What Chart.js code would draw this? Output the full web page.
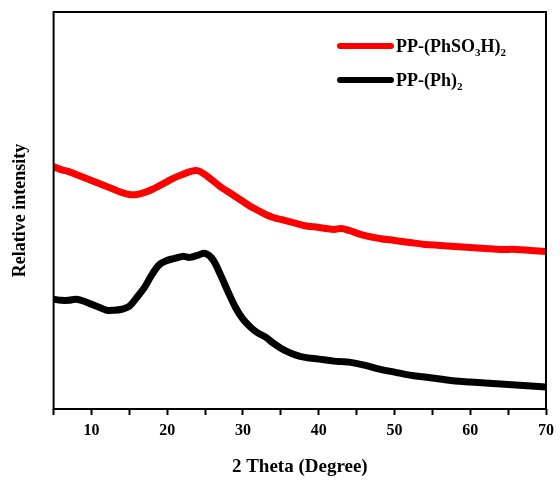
<!DOCTYPE html>
<html>
<head>
<meta charset="utf-8">
<script src="https://cdn.jsdelivr.net/npm/chart.js@4.4.0/dist/chart.umd.min.js"></script>
<style>
  html, body { margin: 0; padding: 0; background: #fff; }
  #wrap { width: 560px; height: 481px; }
</style>
</head>
<body>
<div id="wrap"><canvas id="xrd"></canvas></div>
<script>
// 2 theta positions (degree)
const twoTheta = [5, 6, 7, 8, 9, 10, 11, 12, 13, 14, 15, 16, 17, 18, 19, 20, 21, 22, 23, 24, 25,
  26, 27, 28, 29, 30, 31, 32, 33, 34, 35, 36, 37, 38, 40, 42, 43, 44, 46, 48, 50, 52, 54, 56, 58,
  60, 62, 64, 66, 68, 70];

// relative intensity (arbitrary units)
const sulfonated = [243, 240, 238, 235, 232, 229, 226, 223, 220, 217, 215, 215, 217, 220, 224, 228,
  232, 235, 238, 239, 235, 229, 223, 218, 213, 208, 203, 199, 195, 192, 190, 188, 186, 184, 182, 180,
  181, 179, 174, 171, 169, 167, 165, 164, 163, 162, 161, 160, 160, 159, 158];
const phenyl = [110, 109, 109, 110, 108, 105, 102, 99, 99, 100, 103, 112, 122, 135, 145, 149, 151,
  153, 152, 154, 156, 150, 135, 118, 102, 90, 82, 76, 72, 66, 61, 57, 54, 52, 50, 48, 47.5, 47, 44,
  40, 37, 34, 32, 30, 28, 27, 26, 25, 24, 23, 22];

const seriesNames = ['PP-(PhSO3H)2', 'PP-(Ph)2'];
const xTickLabels = [10, 20, 30, 40, 50, 60, 70];

const serif = '"Liberation Serif", "Times New Roman", serif';

// frame round the plot area
const framePlugin = {
  id: 'frame',
  afterDatasetsDraw(chart) {
    const { ctx, chartArea: a } = chart;
    ctx.save();
    ctx.strokeStyle = '#000';
    ctx.lineWidth = 2;
    ctx.strokeRect(a.left, a.top, a.right - a.left, a.bottom - a.top);
    ctx.restore();
  }
};

// legend with subscript digits
const subLegend = {
  id: 'subLegend',
  afterDraw(chart) {
    const { ctx } = chart;
    const x0 = 340, x1 = 391, ys = [46, 80];
    ctx.save();
    chart.data.datasets.forEach((ds, i) => {
      const y = ys[i];
      ctx.strokeStyle = ds.borderColor;
      ctx.lineWidth = 6;
      ctx.lineCap = 'round';
      ctx.beginPath();
      ctx.moveTo(x0, y);
      ctx.lineTo(x1, y);
      ctx.stroke();
      let x = x1 + 5;
      ctx.fillStyle = '#000';
      ctx.textBaseline = 'alphabetic';
      for (const ch of ds.label) {
        const isSub = /[0-9]/.test(ch);
        ctx.font = (isSub ? 'bold 11px ' : 'bold 18px ') + serif;
        ctx.fillText(ch, x, y + 6 + (isSub ? 4 : 0));
        x += ctx.measureText(ch).width;
      }
    });
    ctx.restore();
  }
};

new Chart(document.getElementById('xrd'), {
  type: 'line',
  data: {
    labels: twoTheta,
    datasets: [
      {
        label: seriesNames[0],
        data: twoTheta.map((t, i) => ({ x: t, y: sulfonated[i] })),
        borderColor: '#ff0000',
        borderWidth: 7,
        pointRadius: 0,
        tension: 0.35
      },
      {
        label: seriesNames[1],
        data: twoTheta.map((t, i) => ({ x: t, y: phenyl[i] })),
        borderColor: '#000000',
        borderWidth: 7,
        pointRadius: 0,
        tension: 0.35
      }
    ]
  },
  options: {
    responsive: true,
    maintainAspectRatio: false,
    animation: false,
    layout: { padding: { top: 12, right: 12, left: 10, bottom: 3 } },
    plugins: {
      legend: { display: false },
      tooltip: { enabled: false }
    },
    scales: {
      x: {
        type: 'linear',
        min: 5,
        max: 70,
        border: { display: false },
        grid: {
          drawOnChartArea: false,
          tickLength: 6,
          tickWidth: 2,
          tickColor: '#000'
        },
        ticks: {
          stepSize: 5,
          autoSkip: false,
          maxRotation: 0,
          color: '#000',
          padding: 6,
          font: { family: serif, size: 16, weight: 'bold' },
          callback: v => xTickLabels.includes(v) ? String(v) : ''
        },
        title: {
          display: true,
          text: '2 Theta (Degree)',
          color: '#000',
          padding: { top: 9, bottom: 0 },
          font: { family: serif, size: 19, weight: 'bold' }
        }
      },
      y: {
        min: 0,
        max: 398,
        border: { display: false },
        grid: { display: false },
        ticks: { display: false },
        title: {
          display: true,
          text: 'Relative intensity',
          color: '#000',
          padding: { top: 0, bottom: 14 },
          font: { family: serif, size: 18, weight: 'bold' }
        }
      }
    }
  },
  plugins: [framePlugin, subLegend]
});
</script>
</body>
</html>
